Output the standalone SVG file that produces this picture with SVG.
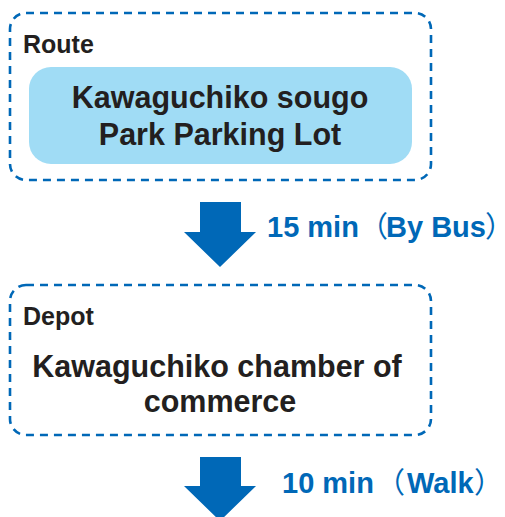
<svg xmlns="http://www.w3.org/2000/svg" width="505" height="517" viewBox="0 0 505 517">
<style>
.frame{fill:#fff;stroke:#0068b7;stroke-width:2.6;stroke-dasharray:8 6}
.lbl{font-family:"Liberation Sans",Arial,sans-serif;font-weight:bold;font-size:25px;fill:#231f20}
.main{font-family:"Liberation Sans",Arial,sans-serif;font-weight:bold;font-size:30.5px;fill:#231f20;text-anchor:middle}
.time{font-family:"Liberation Sans",Arial,sans-serif;font-weight:bold;font-size:29px;fill:#0068b7}
.par{font-family:"Noto Sans CJK JP",sans-serif;font-weight:normal}
.parc{font-family:"Noto Sans CJK JP",sans-serif;font-weight:normal;font-feature-settings:"palt"}
.arrow{fill:#0068b7}
</style>
<rect width="505" height="517" fill="#fff"/>
<g id="route">
<rect class="frame" x="10" y="13" width="421" height="167" rx="16"/>
<text class="lbl" x="23" y="53">Route</text>
<rect x="29" y="67" width="383" height="97" rx="22" fill="#a0dcf5"/>
<text class="main" x="220" y="108">Kawaguchiko sougo</text>
<text class="main" x="220" y="145">Park Parking Lot</text>
</g>
<g id="depot">
<rect class="frame" x="10" y="285" width="421" height="150" rx="16"/>
<text class="lbl" x="23" y="325">Depot</text>
<text class="main" x="217" y="377">Kawaguchiko chamber of</text>
<text class="main" x="220" y="412">commerce</text>
</g>
<g id="connectors">
<polygon class="arrow" points="200,202 241,202 241,232 256,232 220,267 184,232 200,232"/>
<text class="time" x="267" y="237">15 min<tspan class="par">（</tspan><tspan x="386">By Bus</tspan><tspan class="parc" x="486">）</tspan></text>
<polygon class="arrow" points="200,457 241,457 241,486 256,486 220,521 184,486 200,486"/>
<text class="time" x="282" y="493">10 min<tspan class="par" x="376">（</tspan><tspan x="407">Walk</tspan><tspan class="parc" x="475">）</tspan></text>
</g>
</svg>
